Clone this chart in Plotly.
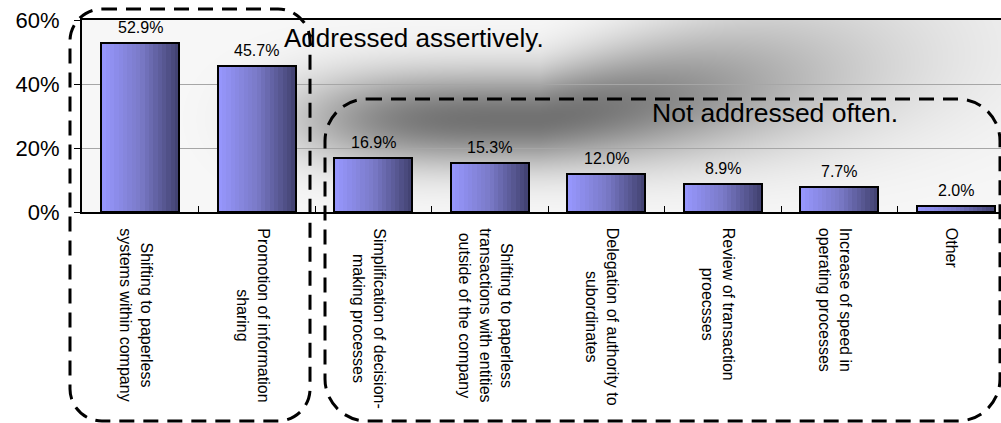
import base64
import struct
import zlib

import numpy as np
import plotly.graph_objects as go

# ---- data -------------------------------------------------------------
categories = [
    "Shifting to paperless<br>systems within company",
    "Promotion of information<br>sharing",
    "Simplification of decision-<br>making processes",
    "Shifting to paperless<br>transactions with entities<br>outside of the company",
    "Delegation of authority to<br>subordinates",
    "Review of transaction<br>proecsses",
    "Increase of speed in<br>operating processes",
    "Other",
]
values = [52.9, 45.7, 16.9, 15.3, 12.0, 8.9, 7.7, 2.0]
y_ticks = [0, 20, 40, 60]
y_tick_text = ["0%", "20%", "40%", "60%"]

# ---- layout geometry (pixels) ----------------------------------------
W, H = 1001, 423
ML, MT, MB, MR = 82, 20, 211, 0
PW, PH = W - ML - MR, H - MT - MB
CAT_STEP = 116.5                      # px per category
X_MAX = -0.5 + PW / CAT_STEP          # last category runs off the right edge
BAR_W = 0.67
FONT = "Liberation Sans, Arial, sans-serif"


def px_to_paper(px, py):
    return (px - ML) / PW, (MT + PH - py) / PH


# ---- shaded plot background (grey streak) -----------------------------
def gray_png(arr):
    h, w = arr.shape
    raw = b"".join(b"\x00" + arr[i].tobytes() for i in range(h))

    def chunk(tag, data):
        c = struct.pack(">I", len(data)) + tag + data
        return c + struct.pack(">I", zlib.crc32(tag + data) & 0xFFFFFFFF)

    return (b"\x89PNG\r\n\x1a\n"
            + chunk(b"IHDR", struct.pack(">IIBBBBB", w, h, 8, 0, 0, 0, 0))
            + chunk(b"IDAT", zlib.compress(raw, 9))
            + chunk(b"IEND", b""))


gx, gy = np.meshgrid(np.arange(PW) + ML + 0.5, np.arange(PH) + MT + 0.5)
cx, cy = 540.0, 119.0
u = gx - cx
up = np.clip(u, 0, None)
axis_y = cy - 0.15 * up
v = gy - axis_y
along = np.where(u < 0, np.exp(-(np.abs(u) / 240.0) ** 4), np.exp(-(u / 300.0) ** 2))
sv = np.where(v < 0, 48.0 + 0.15 * up, 47.0 + 0.1 * up)
dark = along * np.exp(-(v / sv) ** 2)
shade = np.clip(248 - 134 * dark, 0, 255).astype(np.uint8)
bg_src = "data:image/png;base64," + base64.b64encode(gray_png(shade)).decode()

# ---- bars: horizontal gradient built from overlaid slices -------------
stops = [(0.0, (152, 152, 255)), (0.5, (122, 122, 200)), (1.0, (64, 64, 110))]


def grad_color(t):
    for (t0, c0), (t1, c1) in zip(stops[:-1], stops[1:]):
        if t <= t1:
            f = (t - t0) / (t1 - t0)
            c = [round(a + (b - a) * f) for a, b in zip(c0, c1)]
            return f"rgb({c[0]},{c[1]},{c[2]})"
    c = stops[-1][1]
    return f"rgb({c[0]},{c[1]},{c[2]})"


fig = go.Figure()
N_SLICES = 18
step = BAR_W / N_SLICES
for i in range(N_SLICES):
    fig.add_trace(go.Bar(
        x=categories, y=values,
        offset=-BAR_W / 2 + i * step, width=BAR_W - i * step,
        marker=dict(color=grad_color((i + 0.5) / N_SLICES), line=dict(width=0)),
        hoverinfo="skip", showlegend=False,
    ))

# outline of each bar
fig.add_trace(go.Bar(
    x=categories, y=values, width=BAR_W, offset=-BAR_W / 2,
    marker=dict(color="rgba(0,0,0,0)", line=dict(color="black", width=2)),
    showlegend=False, name="",
    hovertemplate="%{y:.1f}%<extra></extra>",
))

annotations = []
# value labels
for c, val in zip(categories, values):
    annotations.append(dict(
        x=c, y=val, xref="x", yref="y", text=f"{val:.1f}%", showarrow=False,
        yanchor="bottom", yshift=5, font=dict(family=FONT, size=16, color="black"),
    ))
# rotated category labels, centred lines
for c in categories:
    annotations.append(dict(
        x=c, y=0, xref="x", yref="paper", text=c, showarrow=False,
        textangle=90, align="center", yanchor="top", xanchor="center",
        yshift=-14, xshift=-4, font=dict(family=FONT, size=16, color="black"),
    ))
# group captions
for text, px, py, size in [("Addressed assertively.", 282, 38, 26),
                           ("Not addressed often.", 650, 113, 26.5)]:
    ax, ay = px_to_paper(px, py)
    annotations.append(dict(
        x=ax, y=ay, xref="paper", yref="paper", text=text, showarrow=False,
        xanchor="left", yanchor="middle",
        font=dict(family=FONT, size=size, color="black"),
    ))


# dashed rounded boxes around the two groups
def rounded_box(x0, y0, x1, y1, r):
    k = 0.55 * r
    pts = [
        ("M", [(x0 + r, y0)]),
        ("L", [(x1 - r, y0)]),
        ("C", [(x1 - r + k, y0), (x1, y0 + r - k), (x1, y0 + r)]),
        ("L", [(x1, y1 - r)]),
        ("C", [(x1, y1 - r + k), (x1 - r + k, y1), (x1 - r, y1)]),
        ("L", [(x0 + r, y1)]),
        ("C", [(x0 + r - k, y1), (x0, y1 - r + k), (x0, y1 - r)]),
        ("L", [(x0, y0 + r)]),
        ("C", [(x0, y0 + r - k), (x0 + r - k, y0), (x0 + r, y0)]),
    ]
    out = []
    for cmd, plist in pts:
        coords = []
        for px, py in plist:
            ax, ay = px_to_paper(px, py)
            coords.append(f"{ax:.5f},{ay:.5f}")
        out.append(cmd + " " + " ".join(coords))
    return " ".join(out) + " Z"


shapes = []
for box in [(70, 9, 310, 421, 32), (325, 99, 1000, 421, 42)]:
    shapes.append(dict(
        type="path", xref="paper", yref="paper", path=rounded_box(*box),
        line=dict(color="black", width=3, dash="15px,9px"),
        fillcolor="rgba(0,0,0,0)", layer="above",
    ))

fig.update_layout(
    width=W, height=H, autosize=False,
    margin=dict(l=ML, r=MR, t=MT, b=MB, pad=0),
    paper_bgcolor="white", plot_bgcolor="white",
    barmode="overlay", bargap=0,
    font=dict(family=FONT, color="black"),
    annotations=annotations, shapes=shapes,
    images=[dict(source=bg_src, xref="paper", yref="paper", x=0, y=1,
                 sizex=1, sizey=1, xanchor="left", yanchor="top",
                 sizing="stretch", layer="below")],
    xaxis=dict(
        type="category", range=[-0.5, X_MAX], showticklabels=False,
        showline=True, linecolor="black", linewidth=2, mirror=True,
        ticks="inside", tickson="boundaries", ticklen=6, tickcolor="black",
        showgrid=False, zeroline=False, fixedrange=True,
    ),
    yaxis=dict(
        range=[0, 60], tickvals=y_ticks, ticktext=y_tick_text,
        tickfont=dict(family=FONT, size=22, color="black"),
        showline=True, linecolor="black", linewidth=2,
        ticks="outside", ticklen=6, tickcolor="black", ticklabelstandoff=10,
        showgrid=True, gridcolor="#a6a6a6", gridwidth=1,
        zeroline=False, fixedrange=True,
    ),
)

fig.write_html("out.html")
